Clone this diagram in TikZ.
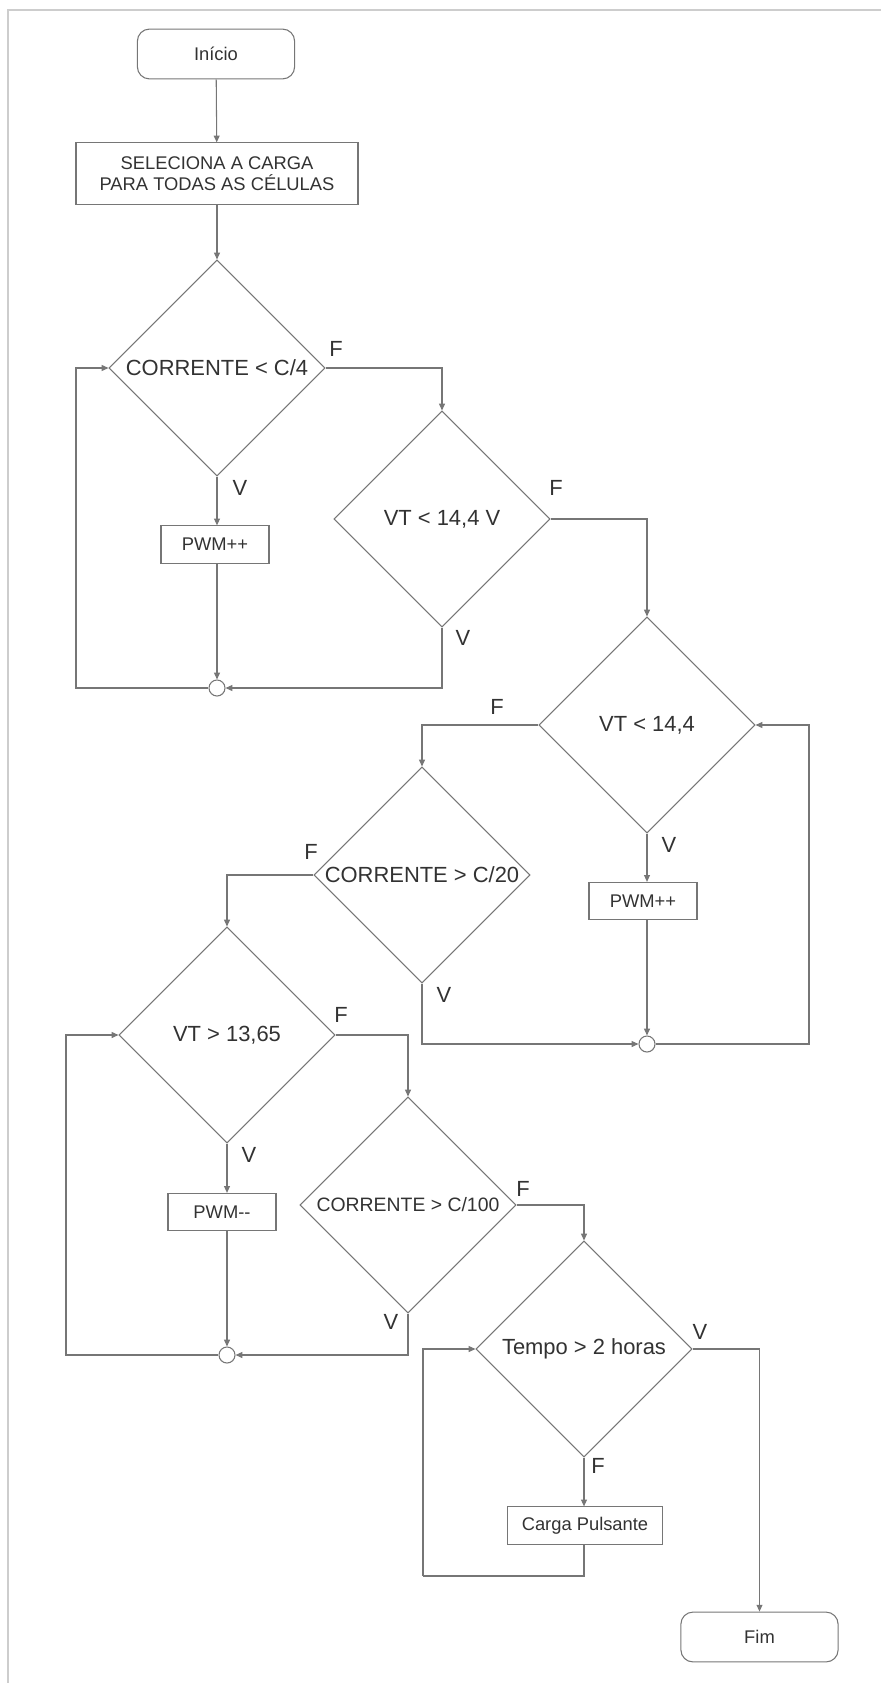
\documentclass[tikz,border=0pt]{standalone}
\usepackage{fontspec}
\setmainfont{Liberation Sans}
\usetikzlibrary{shapes.geometric,arrows.meta}
\definecolor{linegray}{RGB}{118,118,118}
\definecolor{textgray}{RGB}{50,50,50}
\definecolor{framegray}{RGB}{205,205,205}

\begin{document}
\begin{tikzpicture}[x=0.16667cm, y=0.16667cm,
		every node/.style={text=textgray},
		flow/.style={-{Triangle[length=3.2pt,width=2.8pt]}, draw=linegray, line width=0.5pt},
		line/.style={draw=linegray, line width=0.5pt},
		terminal/.style={rectangle, rounded corners=0.2cm, draw=linegray, line width=0.5pt, minimum width=2.62cm, minimum height=0.83cm, inner sep=0pt, font=\fontsize{8.7}{10}\selectfont},
		process/.style={rectangle, draw=linegray, line width=0.5pt, minimum height=0.62cm, inner sep=0pt, align=center, font=\fontsize{8.7}{10}\selectfont},
		decision/.style={diamond, aspect=1, draw=linegray, line width=0.5pt, minimum size=3.6cm, inner sep=0pt, font=\fontsize{10.4}{12}\selectfont},
		junction/.style={circle, draw=linegray, line width=0.5pt, minimum size=0.267cm, inner sep=0pt},
		lbl/.style={font=\fontsize{10.4}{12}\selectfont}]
		\useasboundingbox (0,0) rectangle (88.1,-168.3);
		\draw[framegray, line width=0.5pt] (0.8,-168.3) -- (0.8,-1.0) -- (88.1,-1.0);

		\node (inicio) [terminal] at (21.6,-5.4) {Início};
		\node (selec) [process, minimum width=4.7cm, minimum height=1.02cm] at (21.7,-17.35) {SELECIONA A CARGA\\PARA TODAS AS CÉLULAS};
		\draw[flow] (inicio) -- (selec);

		\node (d1) [decision] at (21.7,-36.8) {CORRENTE < C/4};
		\draw[flow] (selec) -- (d1);
		\node (pwm1) [process, minimum width=1.8cm] at (21.5,-54.45) {PWM++};
		\node (j1) [junction] at (21.7,-68.8) {};
		\draw[flow] (d1.south) -- (d1.south |- pwm1.north);
		\node (d1v) [lbl] at (24.0,-48.8) {V};
		\draw[flow] (pwm1.south -| j1.north) -- (j1.north);
		\coordinate (loop1) at (7.6,-36.8);
		\draw[flow] (j1.west) -| (loop1) -- (d1.west);

		\node (d2) [decision] at (44.2,-51.9) {VT < 14,4 V};
		\draw[flow] (d1.east) -| (d2.north);
		\node (d1f) [lbl] at (33.6,-34.9) {F};
		\draw[flow] (d2.south) |- (j1.east);
		\node (d2v) [lbl] at (46.3,-63.8) {V};

		\node (d3) [decision] at (64.7,-72.5) {VT < 14,4};
		\draw[flow] (d2.east) -| (d3.north);
		\node (d2f) [lbl] at (55.6,-48.8) {F};
		\node (pwm2) [process, minimum width=1.8cm] at (64.3,-90.1) {PWM++};
		\node (j2) [junction] at (64.7,-104.4) {};
		\draw[flow] (d3.south) -- (d3.south |- pwm2.north);
		\node (d3v) [lbl] at (66.9,-84.5) {V};
		\draw[flow] (pwm2.south -| j2.north) -- (j2.north);
		\coordinate (loop2) at (80.9,-72.5);
		\draw[flow] (j2.east) -| (loop2) -- (d3.east);

		\node (d4) [decision] at (42.2,-87.5) {CORRENTE > C/20};
		\draw[flow] (d3.west) -| (d4.north);
		\node (d3f) [lbl] at (49.7,-70.7) {F};
		\draw[flow] (d4.south) |- (j2.west);
		\node (d4v) [lbl] at (44.4,-99.5) {V};

		\node (d5) [decision] at (22.7,-103.5) {VT > 13,65};
		\draw[flow] (d4.west) -| (d5.north);
		\node (d4f) [lbl] at (31.1,-85.2) {F};
		\node (pwm3) [process, minimum width=1.8cm] at (22.2,-121.2) {PWM-{}-};
		\node (j3) [junction] at (22.7,-135.5) {};
		\draw[flow] (d5.south) -- (d5.south |- pwm3.north);
		\node (d5v) [lbl] at (24.9,-115.5) {V};
		\draw[flow] (pwm3.south -| j3.north) -- (j3.north);
		\coordinate (loop3) at (6.6,-103.5);
		\draw[flow] (j3.west) -| (loop3) -- (d5.west);

		\node (d6) [decision, font=\fontsize{9.2}{11}\selectfont] at (40.8,-120.5) {CORRENTE > C/100};
		\draw[flow] (d5.east) -| (d6.north);
		\node (d5f) [lbl] at (34.1,-101.5) {F};
		\draw[flow] (d6.south) |- (j3.east);
		\node (d6v) [lbl] at (39.1,-132.2) {V};

		\node (d7) [decision] at (58.4,-134.9) {Tempo > 2 horas};
		\draw[flow] (d6.east) -| (d7.north);
		\node (d6f) [lbl] at (52.3,-118.9) {F};
		\node (pulse) [process, minimum width=2.57cm] at (58.5,-152.55) {Carga Pulsante};
		\draw[flow] (d7.south) -- (d7.south |- pulse.north);
		\node (d7f) [lbl] at (59.8,-146.6) {F};
		\coordinate (loop4) at (42.3,-157.6);
		\draw[line] (pulse.south -| d7.south) |- (loop4);
		\draw[flow] (loop4) |- (d7.west);

		\node (fim) [terminal] at (75.95,-163.7) {Fim};
		\draw[flow] (d7.east) -| (fim.north);
		\node (d7v) [lbl] at (70.0,-133.2) {V};
	\end{tikzpicture}
\end{document}
